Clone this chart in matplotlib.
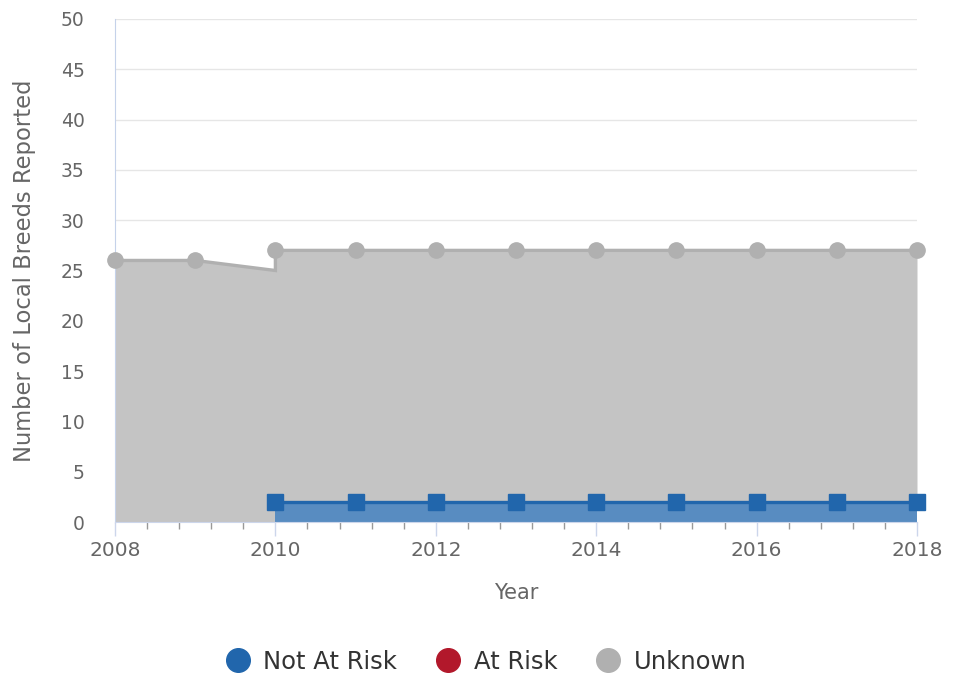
import numpy as np
import matplotlib.pyplot as plt
from matplotlib.lines import Line2D

plt.rcParams['font.family'] = ['DejaVu Sans']

years = [2008, 2009, 2010, 2011, 2012, 2013, 2014, 2015, 2016, 2017, 2018]
not_at_risk = [None, None, 2, 2, 2, 2, 2, 2, 2, 2, 2]
at_risk = [None] * 11
unknown = [26, 26, 25, 25, 25, 25, 25, 25, 25, 25, 25]

blue = '#2166ac'
red = '#b2182b'
grey = '#b0b0b0'
blue_fill = '#588cc1'
grey_fill = '#c4c4c4'

fig = plt.figure(figsize=(9.6, 6.77), dpi=100)
ax = fig.add_axes([115 / 960, 1 - 522 / 677, (917 - 115) / 960, (522 - 19) / 677])

# stack base from lower series, null counts as 0
base = [0 if v is None else v for v in not_at_risk]
top = [b + u for b, u in zip(base, unknown)]

# highcharts-style path: a step where the lower series starts
px, py_top, py_bot = [], [], []
for i, x in enumerate(years):
    if i > 0 and not_at_risk[i - 1] is None and not_at_risk[i] is not None:
        px.append(x); py_top.append(unknown[i]); py_bot.append(0)
    px.append(x); py_top.append(top[i]); py_bot.append(base[i])

ax.fill_between(px, py_bot, py_top, color=grey_fill, lw=0, zorder=2)
ax.plot(px, py_top, color=grey, lw=2.4, zorder=3, solid_joinstyle='miter')
ax.plot(years, top, 'o', color=grey, ms=11, zorder=5, clip_on=False)

bx = [x for x, v in zip(years, not_at_risk) if v is not None]
by = [v for v in not_at_risk if v is not None]
ax.fill_between(bx, 0, by, color=blue_fill, lw=0, zorder=2)
ax.plot(bx, by, color=blue, lw=2.4, zorder=3)
ax.plot(bx, by, 's', color=blue, ms=11, zorder=5, clip_on=False)

ax.set_xlim(2008, 2018)
ax.set_ylim(0, 50)
ax.set_yticks(range(0, 51, 5))
ax.set_xticks(range(2008, 2019, 2))
ax.set_xticks(np.arange(2008, 2018.01, 0.4), minor=True)
ax.grid(axis='y', color='#e6e6e6', lw=1, zorder=0)
for s in ['top', 'right']:
    ax.spines[s].set_visible(False)
ax.spines['left'].set_color('#c5d2ea')
ax.spines['left'].set_zorder(4)
ax.spines['bottom'].set_color('#ccd6eb')
ax.spines['bottom'].set_zorder(4)
ax.tick_params(axis='y', length=0, labelsize=13.5, labelcolor='#666666', pad=22)
ax.tick_params(axis='x', which='major', length=10, width=1, color='#ccd6eb',
               labelsize=14.5, labelcolor='#666666', pad=4)
ax.tick_params(axis='x', which='minor', length=5, width=1, color='#999999')

ax.set_xlabel('Year', fontsize=15, color='#666666', labelpad=16)
ax.set_ylabel('Number of Local Breeds Reported', fontsize=16.3, color='#666666', labelpad=18)

handles = [Line2D([], [], marker='o', ls='', color=c, ms=17) for c in (blue, red, grey)]
fig.legend(handles, ['Not At Risk', 'At Risk', 'Unknown'], loc='center',
           bbox_to_anchor=(0.5, 1 - 662 / 677), ncol=3, frameon=False,
           fontsize=17.5, handletextpad=0.05, columnspacing=1.1, labelcolor='#333333')

fig.savefig('out.png', dpi=100)
